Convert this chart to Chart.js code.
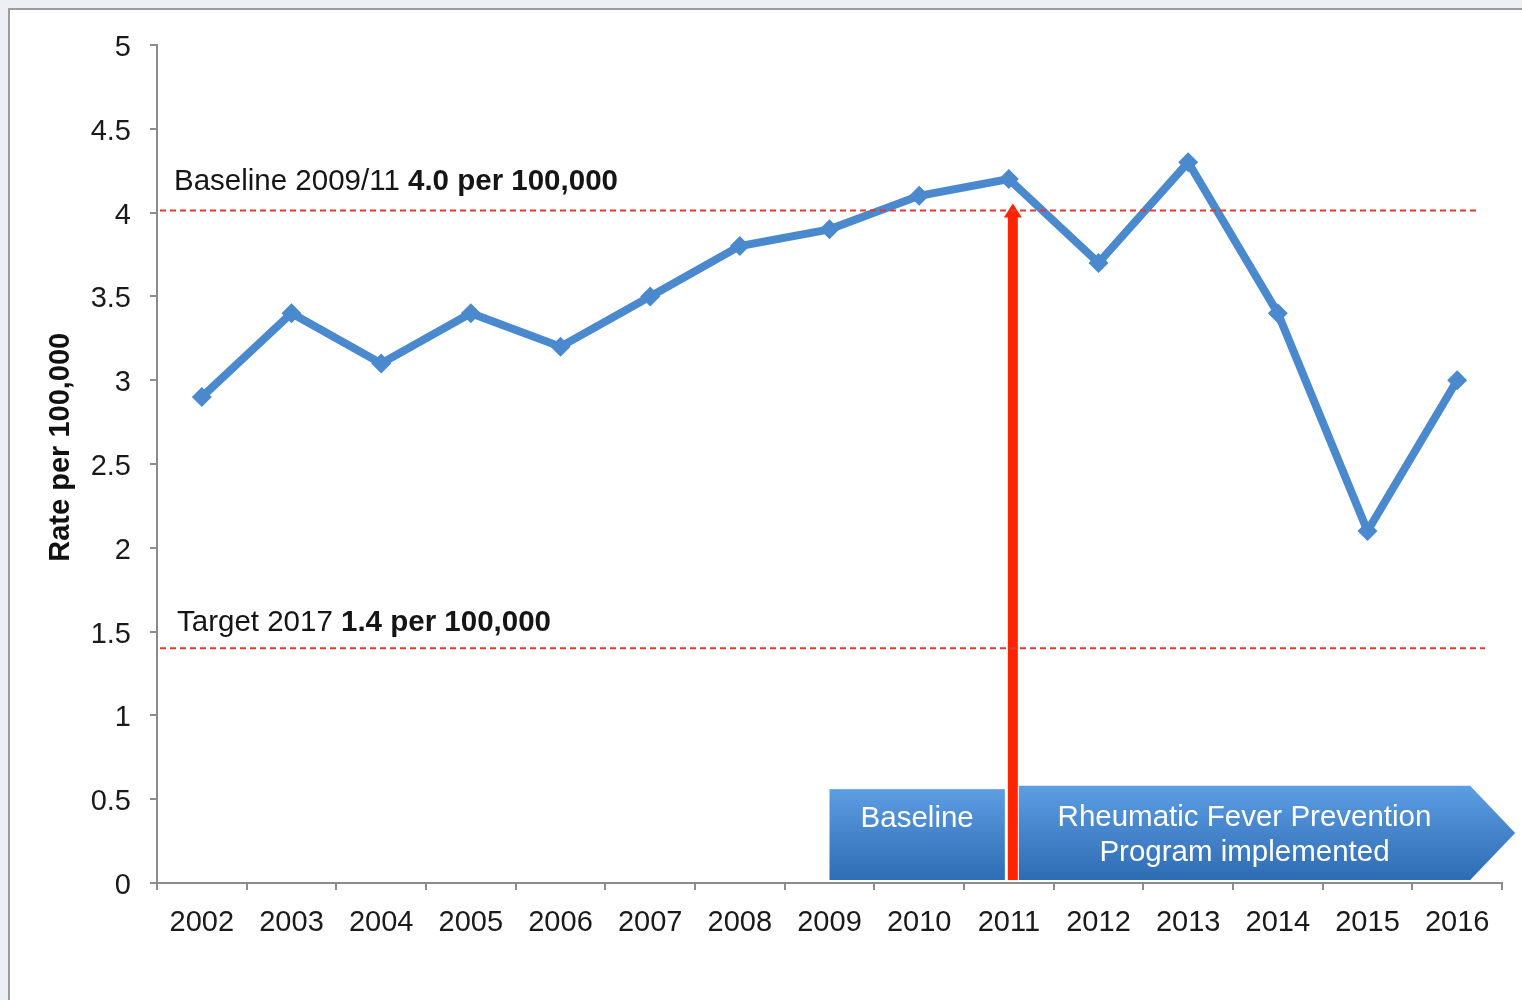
<!DOCTYPE html>
<html>
<head>
<meta charset="utf-8">
<title>Rheumatic fever rate</title>
<script src="https://cdn.jsdelivr.net/npm/chart.js@4.4.0/dist/chart.umd.min.js"></script>
<style>
  html, body { margin: 0; padding: 0; background: #eceff4; }
  #wrap { position: absolute; left: 0; top: 0; width: 1522px; height: 1000px; }
</style>
</head>
<body>
<div id="wrap"><canvas id="chart" width="1522" height="1000"></canvas></div>
<script>
// rate per 100,000 by year
const years = ['2002', '2003', '2004', '2005', '2006', '2007', '2008', '2009',
               '2010', '2011', '2012', '2013', '2014', '2015', '2016'];
const rates = [2.9, 3.4, 3.1, 3.4, 3.2, 3.5, 3.8, 3.9, 4.1, 4.2, 3.7, 4.3, 3.4, 2.1, 3.0];
const yTicks = [0, 0.5, 1, 1.5, 2, 2.5, 3, 3.5, 4, 4.5, 5];

// reference lines and phases
const baselineRate = 4.0;
const targetRate = 1.4;
const baselineStart = '2009';
const programStart = '2011';
const lastYear = '2016';

const FONT = '"Liberation Sans", Arial, Helvetica, sans-serif';
const BLUE = '#4a89cd';
const DASH_RED = '#e5392e';

// light frame behind the chart
const panelPlugin = {
  id: 'panel',
  beforeDraw(chart) {
    const ctx = chart.ctx;
    ctx.save();
    ctx.fillStyle = '#eceff4';
    ctx.fillRect(0, 0, chart.width, chart.height);
    ctx.fillStyle = '#ffffff';
    ctx.fillRect(9, 9, chart.width, chart.height);
    ctx.strokeStyle = '#9c9c9c';
    ctx.lineWidth = 2;
    ctx.beginPath();
    ctx.moveTo(9, chart.height);
    ctx.lineTo(9, 9);
    ctx.lineTo(chart.width, 9);
    ctx.stroke();
    ctx.restore();
  },
  afterDraw(chart) {
    // y axis title, sitting a little above the middle of the axis
    const ctx = chart.ctx;
    const y = chart.scales.y;
    ctx.save();
    ctx.translate(61, y.getPixelForValue(2.6));
    ctx.rotate(-Math.PI / 2);
    ctx.fillStyle = '#111111';
    ctx.font = 'bold 29px ' + FONT;
    ctx.textAlign = 'center';
    ctx.textBaseline = 'middle';
    ctx.fillText('Rate per 100,000', 0, 0);
    ctx.restore();
  }
};

function blueGradient(ctx, top, bottom) {
  const g = ctx.createLinearGradient(0, top, 0, bottom);
  g.addColorStop(0, '#5d9de2');
  g.addColorStop(1, '#2e6cb4');
  return g;
}

// phase banners + red arrow, under the line
const phasePlugin = {
  id: 'phases',
  beforeDatasetsDraw(chart) {
    const ctx = chart.ctx;
    const x = chart.scales.x, y = chart.scales.y;
    const xs = x.getPixelForValue(years.indexOf(baselineStart));
    const xp = x.getPixelForValue(years.indexOf(programStart));
    const xe = x.getPixelForValue(years.indexOf(lastYear));
    const bottom = y.bottom - 3;

    ctx.save();
    // baseline box
    let top = y.getPixelForValue(0.56);
    ctx.fillStyle = blueGradient(ctx, top, bottom);
    ctx.fillRect(xs, top, xp - 4 - xs, bottom - top);

    // programme arrow
    top = y.getPixelForValue(0.58);
    const bodyEnd = xe + 13, tip = xe + 58;
    ctx.fillStyle = blueGradient(ctx, top, bottom);
    ctx.beginPath();
    ctx.moveTo(xp + 10, top);
    ctx.lineTo(bodyEnd, top);
    ctx.lineTo(tip, (top + bottom) / 2);
    ctx.lineTo(bodyEnd, bottom);
    ctx.lineTo(xp + 10, bottom);
    ctx.closePath();
    ctx.fill();

    ctx.fillStyle = '#ffffff';
    ctx.font = '29.5px ' + FONT;
    ctx.textAlign = 'center';
    ctx.textBaseline = 'middle';
    ctx.fillText('Baseline', (xs + xp - 4) / 2, 819);
    const cx = (xp + 10 + bodyEnd) / 2;
    ctx.fillText('Rheumatic Fever Prevention', cx, 818);
    ctx.fillText('Program implemented', cx, 853);

    // red arrow marking programme start
    const ax = xp + 4;
    const tipY = y.getPixelForValue(baselineRate) - 9;
    ctx.fillStyle = '#ff2400';
    ctx.beginPath();
    ctx.moveTo(ax - 5, bottom);
    ctx.lineTo(ax - 5, tipY + 14);
    ctx.lineTo(ax - 9, tipY + 14);
    ctx.lineTo(ax, tipY);
    ctx.lineTo(ax + 9, tipY + 14);
    ctx.lineTo(ax + 5, tipY + 14);
    ctx.lineTo(ax + 5, bottom);
    ctx.closePath();
    ctx.fill();
    ctx.restore();
  }
};

function mixedLabel(ctx, x, yMid, plain, bold) {
  ctx.font = '29.5px ' + FONT;
  ctx.fillText(plain, x, yMid);
  const w = ctx.measureText(plain).width;
  ctx.font = 'bold 29.5px ' + FONT;
  ctx.fillText(bold, x + w, yMid);
}

// dashed baseline / target lines with their labels
const refLinePlugin = {
  id: 'refLines',
  afterDatasetsDraw(chart) {
    const ctx = chart.ctx;
    const y = chart.scales.y;
    const area = chart.chartArea;
    ctx.save();
    ctx.strokeStyle = DASH_RED;
    ctx.lineWidth = 2;
    ctx.setLineDash([6, 4]);
    const yb = y.getPixelForValue(baselineRate) - 2;
    ctx.beginPath();
    ctx.moveTo(area.left + 3, yb);
    ctx.lineTo(area.right - 24, yb);
    ctx.stroke();
    const yt = y.getPixelForValue(targetRate);
    ctx.beginPath();
    ctx.moveTo(area.left + 3, yt);
    ctx.lineTo(area.right - 17, yt);
    ctx.stroke();
    ctx.setLineDash([]);

    ctx.fillStyle = '#151515';
    ctx.textAlign = 'left';
    ctx.textBaseline = 'middle';
    mixedLabel(ctx, area.left + 17, yb - 29, 'Baseline 2009/11 ', baselineRate.toFixed(1) + ' per 100,000');
    mixedLabel(ctx, area.left + 20, yt - 26, 'Target 2017 ', targetRate.toFixed(1) + ' per 100,000');
    ctx.restore();
  }
};

new Chart(document.getElementById('chart').getContext('2d'), {
  type: 'line',
  data: {
    labels: years,
    datasets: [{
      data: rates,
      borderColor: BLUE,
      backgroundColor: BLUE,
      borderWidth: 8,
      tension: 0,
      pointStyle: 'rectRot',
      pointRadius: 10,
      pointBorderWidth: 0,
      pointBackgroundColor: BLUE
    }]
  },
  options: {
    responsive: false,
    animation: false,
    layout: { padding: { top: 45, right: 20, left: 0, bottom: 0 } },
    plugins: {
      legend: { display: false },
      tooltip: { enabled: false }
    },
    scales: {
      x: {
        offset: true,
        afterFit(scale) { scale.height = 117; },
        grid: {
          offset: true,
          drawOnChartArea: false,
          drawTicks: true,
          tickLength: 7,
          color: '#8c8c8c',
          lineWidth: 2
        },
        border: { color: '#8c8c8c', width: 2 },
        ticks: {
          color: '#1a1a1a',
          padding: 16,
          maxRotation: 0,
          autoSkip: false,
          font: { family: FONT, size: 29 }
        }
      },
      y: {
        min: 0,
        max: 5,
        afterFit(scale) { scale.width = 157; },
        afterBuildTicks(scale) { scale.ticks = yTicks.map(v => ({ value: v })); },
        grid: {
          drawOnChartArea: false,
          drawTicks: true,
          tickLength: 7,
          color: '#8c8c8c',
          lineWidth: 2
        },
        border: { color: '#8c8c8c', width: 2 },
        ticks: {
          color: '#1a1a1a',
          padding: 19,
          labelOffset: 3,
          font: { family: FONT, size: 29 },
          callback: v => String(v)
        }
      }
    }
  },
  plugins: [panelPlugin, phasePlugin, refLinePlugin]
});
</script>
</body>
</html>
